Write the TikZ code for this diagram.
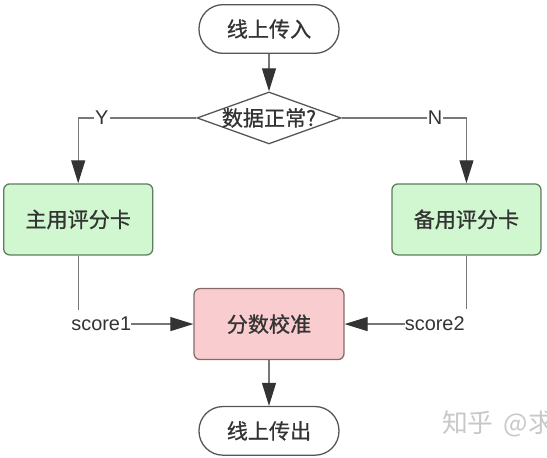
\documentclass[tikz,border=0pt]{standalone}
\usepackage{fontspec}
\setmainfont{Liberation Sans}
\newfontfamily\cjk[FakeBold=0.8]{Noto Sans CJK SC}
\newfontfamily\cjklight{Noto Sans CJK SC}
\usetikzlibrary{arrows.meta,positioning,shapes.geometric}
\definecolor{ink}{HTML}{333333}
\definecolor{edgegray}{HTML}{555555}
\definecolor{wiregray}{HTML}{777777}
\definecolor{tipgray}{HTML}{333333}
\definecolor{lightgreen}{HTML}{D0F7D0}
\definecolor{darkgreen}{HTML}{5E7D5E}
\definecolor{lightpink}{HTML}{F9CDD0}
\definecolor{darkpink}{HTML}{8A6868}
\definecolor{wmgray}{HTML}{C8C8C8}

\begin{document}
\begin{tikzpicture}[node distance=1.2cm and 1.2cm,>={Triangle[length=0.69cm,width=0.42cm,color=tipgray]}]
\tikzset{term/.style={draw=edgegray,line width=1.1pt,rounded corners=0.72cm,minimum width=4.2cm,minimum height=1.46cm,text=ink,font=\cjk\fontsize{18}{21}\selectfont},
check/.style={diamond,draw=edgegray,line width=1.1pt,inner sep=0pt,minimum width=4.32cm,minimum height=1.56cm,text=ink,font=\cjk\fontsize{18}{21}\selectfont},
card/.style={draw=darkgreen,line width=1.1pt,rounded corners=0.18cm,minimum width=4.47cm,minimum height=2.13cm,fill=lightgreen,text=ink,font=\cjk\fontsize{18}{21}\selectfont},
calbox/.style={draw=darkpink,line width=1.1pt,rounded corners=0.18cm,minimum width=4.5cm,minimum height=2.13cm,fill=lightpink,text=ink,font=\cjk\fontsize{18}{21}\selectfont},
lbl/.style={inner sep=0pt,text=ink,font=\fontsize{17}{20}\selectfont},
yn/.style={fill=white,inner sep=1pt,text=ink,font=\fontsize{17}{20}\selectfont},
flow/.style={draw=wiregray,line width=1pt},
wmark/.style={inner sep=0pt,text=wmgray,font=\cjklight\fontsize{22}{25}\selectfont}}
\useasboundingbox (-8.07,0.87) rectangle (8.34,-12.87);
\node[term] (start) {线上传入};
\node[check,below=1.12cm of start] (check) {\makebox[0pt]{数据正常?}};
\node[calbox,below=4.3cm of check] (calib) {分数校准};
\node[term,below=1.37cm of calib] (finish) {线上传出};
\node[card,left=1.2cm of calib,yshift=3.14cm] (main) {主用评分卡};
\node[card,right=1.4cm of calib,yshift=3.14cm] (backup) {备用评分卡};
\node[lbl,left=1.86cm of calib] (score1) {score1};
\node[lbl,right=1.8cm of calib] (score2) {score2};
\node[wmark,right=3.07cm of finish,yshift=0.2cm] (zhihu) {知乎\hspace{0.3cm}@求};
\draw[flow,->] (start)--(check);
\draw[flow,->] (check) -| node[yn,pos=0.4]{Y} (main);
\draw[flow,->] (check) -| node[yn,pos=0.374]{N} (backup);
\draw[flow,shorten >=0.22cm] (main)--(main |- score1.north);
\draw[flow,shorten >=0.22cm] (backup)--(backup |- score2.north);
\draw[flow,->] (score1)--(calib);
\draw[flow,->] (score2)--(calib);
\draw[flow,->] (calib)--(finish);
\end{tikzpicture}
\end{document}
